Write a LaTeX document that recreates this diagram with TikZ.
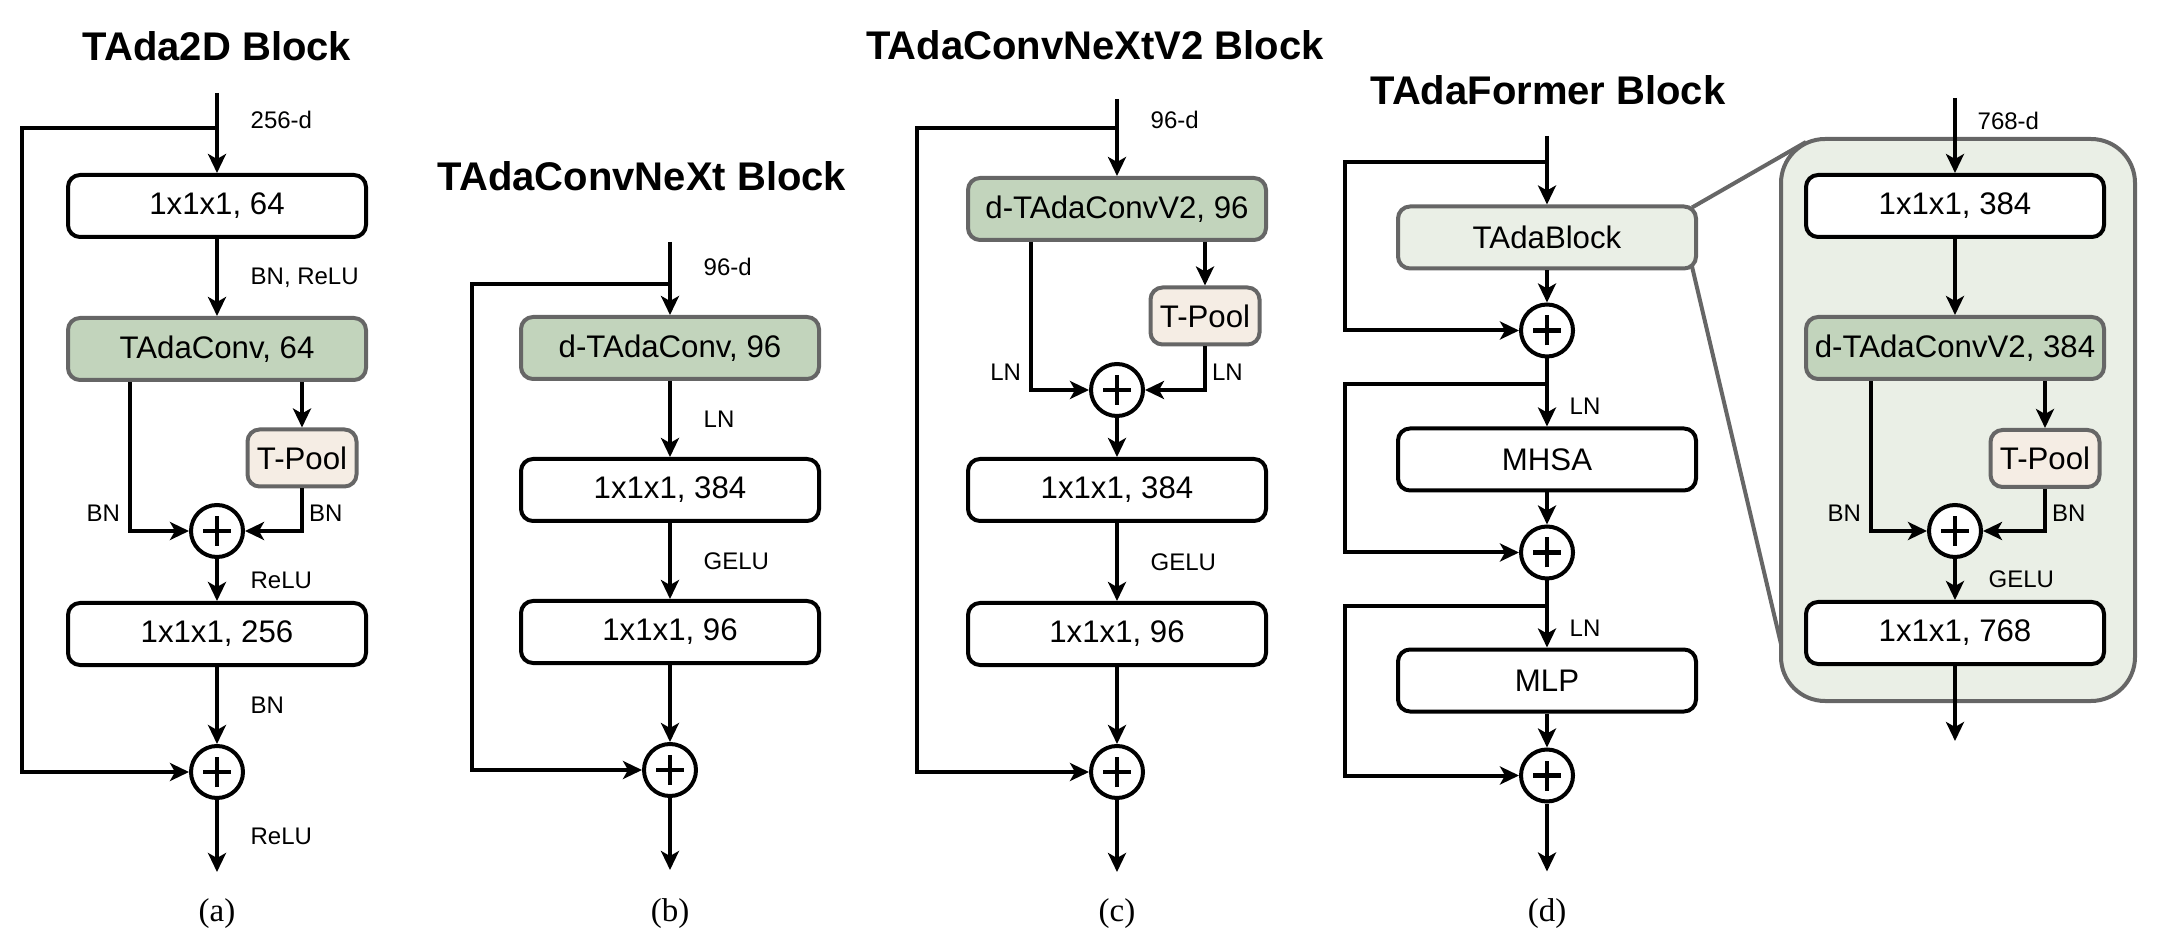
\documentclass[tikz,border=0pt]{standalone}
\usepackage{fontspec}
\setmainfont{Liberation Sans}
\newfontfamily\capfont{Liberation Serif}
\usetikzlibrary{positioning,arrows.meta,backgrounds}
\definecolor{cG}{RGB}{194,212,188}
\definecolor{cP}{RGB}{245,237,228}
\definecolor{cL}{RGB}{234,239,230}
\definecolor{cD}{RGB}{102,102,102}
\tikzset{myboxW/.style={
  shape=rectangle,
  rounded corners=6pt,
  draw=black,
  fill=white,
  line width=2pt,
  minimum width=149pt,
  minimum height=31pt,
  inner sep=0pt,
  font=\fontsize{15.6}{18}\selectfont,
  }
}
\tikzset{myboxG/.style={
  myboxW,
  draw=cD,
  fill=cG,
  }
}
\tikzset{myboxL/.style={
  myboxW,
  draw=cD,
  fill=cL,
  }
}
\tikzset{myboxP/.style={
  myboxW,
  draw=cD,
  fill=cP,
  minimum width=54.5pt,
  minimum height=28.5pt,
  }
}
\tikzset{mybig/.style={
  shape=rectangle,
  rounded corners=22pt,
  draw=cD,
  fill=cL,
  line width=2pt,
  minimum width=177pt,
  minimum height=281pt,
  }
}
\tikzset{myplus/.style={
  shape=circle,
  draw=black,
  fill=white,
  line width=2pt,
  minimum size=26pt,
  inner sep=0pt,
  path picture={
    \draw[line width=2.2pt] ([xshift=-7pt]path picture bounding box.center) -- ([xshift=7pt]path picture bounding box.center);
    \draw[line width=2.2pt] ([yshift=-7.5pt]path picture bounding box.center) -- ([yshift=7.5pt]path picture bounding box.center);
  },
  }
}
\tikzset{myarrow/.style={
  draw=black,
  line width=2pt,
  -{Stealth[length=9.5pt,width=9pt,inset=2.5pt]},
  }
}
\tikzset{mygray/.style={
  draw=cD,
  line width=2pt,
  }
}
\tikzset{elbl/.style={anchor=west, xshift=12.5pt, font=\fontsize{12}{14}\selectfont}}
\tikzset{elbl2/.style={anchor=west, xshift=7pt, font=\fontsize{12}{14}\selectfont}}
\tikzset{lblL/.style={anchor=south east, inner xsep=4pt, inner ysep=3.5pt, font=\fontsize{12}{14}\selectfont}}
\tikzset{lblR/.style={anchor=south west, inner xsep=2.5pt, inner ysep=3.5pt, font=\fontsize{12}{14}\selectfont}}
\tikzset{mytitle/.style={font=\bfseries\fontsize{20}{24}\selectfont}}
\tikzset{mycap/.style={font=\capfont\fontsize{16.5}{20}\selectfont}}

\begin{document}
\begin{tikzpicture}[x=0.5pt,y=-0.5pt]
\useasboundingbox (0,0) rectangle (2168,940);

% (a) TAda2D
\node[mytitle] (ta) at (217,46) {TAda2D Block};
\coordinate (a0) at (217,93);
\coordinate (aj) at (217,128);
\coordinate (ak) at (22,128);
\node[myboxW] (a1) at (217,206) {1x1x1, 64};
\node[myboxG, below=38.5pt of a1] (a2) {TAdaConv, 64};
\node[myboxP] (a3) at (302,458) {T-Pool};
\node[myplus, below=60.5pt of a2] (a4) {};
\node[myboxW, below=21pt of a4] (a5) {1x1x1, 256};
\node[myplus, below=38.5pt of a5] (a6) {};
\coordinate[below=36pt of a6] (a7);
\node[mycap] (ca) at (217,914) {(a)};
\draw[myarrow] (a0) -- node[elbl, pos=0.34]{256-d} (a1);
\draw[myarrow] (aj) -- (ak) |- (a6);
\draw[myarrow] (a1) -- node[elbl]{BN, ReLU} (a2);
\draw[myarrow] ([xshift=-43.5pt]a2.south) |- node[pos=0.5, lblL]{BN} (a4);
\draw[myarrow] ([xshift=42.5pt]a2.south) -- (a3);
\draw[myarrow] (a3) |- node[pos=0.5, lblR]{BN} (a4);
\draw[myarrow] (a4) -- node[elbl]{ReLU} (a5);
\draw[myarrow] (a5) -- node[elbl]{BN} (a6);
\draw[myarrow] (a6) -- node[elbl]{ReLU} (a7);

% (b) TAdaConvNeXt
\node[mytitle] (tb) at (642,176) {TAdaConvNeXt Block};
\coordinate (b0) at (670,242);
\coordinate (bj) at (670,284);
\coordinate (bk) at (472,284);
\node[myboxG] (b1) at (670,348) {d-TAdaConv, 96};
\node[myboxW, below=38pt of b1] (b2) {1x1x1, 384};
\node[myboxW, below=38pt of b2] (b3) {1x1x1, 96};
\node[myplus, below=38.5pt of b3] (b4) {};
\coordinate[below=36pt of b4] (b5);
\node[mycap] (cb) at (670,914) {(b)};
\draw[myarrow] (b0) -- node[elbl, pos=0.34]{96-d} (b1);
\draw[myarrow] (bj) -- (bk) |- (b4);
\draw[myarrow] (b1) -- node[elbl]{LN} (b2);
\draw[myarrow] (b2) -- node[elbl]{GELU} (b3);
\draw[myarrow] (b3) -- (b4);
\draw[myarrow] (b4) -- (b5);

% (c) TAdaConvNeXtV2
\node[mytitle] (tc) at (1095,45) {TAdaConvNeXtV2 Block};
\coordinate (c0) at (1117,99);
\coordinate (cj) at (1117,128);
\coordinate (ck) at (917,128);
\node[myboxG] (c1) at (1117,209) {d-TAdaConvV2, 96};
\node[myboxP] (c2) at (1205,316) {T-Pool};
\node[myplus, below=60pt of c1] (c3) {};
\node[myboxW, below=19.5pt of c3] (c4) {1x1x1, 384};
\node[myboxW, below=39pt of c4] (c5) {1x1x1, 96};
\node[myplus, below=38.5pt of c5] (c6) {};
\coordinate[below=36pt of c6] (c7);
\node[mycap] (cc) at (1117,914) {(c)};
\draw[myarrow] (c0) -- node[elbl, pos=0.27]{96-d} (c1);
\draw[myarrow] (cj) -- (ck) |- (c6);
\draw[myarrow] ([xshift=-43pt]c1.south) |- node[pos=0.5, lblL]{LN} (c3);
\draw[myarrow] ([xshift=44pt]c1.south) -- (c2);
\draw[myarrow] (c2) |- node[pos=0.5, lblR]{LN} (c3);
\draw[myarrow] (c3) -- (c4);
\draw[myarrow] (c4) -- node[elbl]{GELU} (c5);
\draw[myarrow] (c5) -- (c6);
\draw[myarrow] (c6) -- (c7);

% (d) TAdaFormer
\node[mytitle] (td) at (1548,90) {TAdaFormer Block};
\coordinate (d0) at (1547,136);
\coordinate (dj1) at (1547,162);
\coordinate (dk1) at (1345,162);
\coordinate (dj2) at (1547,384);
\coordinate (dk2) at (1345,384);
\coordinate (dj3) at (1547,606);
\coordinate (dk3) at (1345,606);
\node[myboxL] (d1) at (1547,237.5) {TAdaBlock};
\node[myplus, below=16pt of d1] (d2) {};
\node[myboxW, below=34pt of d2] (d3) {MHSA};
\node[myplus, below=16pt of d3] (d4) {};
\node[myboxW, below=33.5pt of d4] (d5) {MLP};
\node[myplus, below=17pt of d5] (d6) {};
\coordinate[below=34pt of d6] (d7);
\node[mycap] (cd) at (1547,914) {(d)};
\draw[myarrow] (d0) -- (d1);
\draw[myarrow] (dj1) -- (dk1) |- (d2);
\draw[myarrow] (d1) -- (d2);
\draw[myarrow] (d2) -- node[elbl2, pos=0.7]{LN} (d3);
\draw[myarrow] (dj2) -- (dk2) |- (d4);
\draw[myarrow] (d3) -- (d4);
\draw[myarrow] (d4) -- node[elbl2, pos=0.72]{LN} (d5);
\draw[myarrow] (dj3) -- (dk3) |- (d6);
\draw[myarrow] (d5) -- (d6);
\draw[myarrow] (d6) -- (d7);

% zoomed TAdaBlock
\node[mybig] (eb) at (1958,420) {};
\coordinate (ez1) at (1806,142);
\coordinate (ez2) at (1781,644);
\begin{scope}[on background layer]
\draw[mygray] ([xshift=-3pt,yshift=-1.5pt]d1.north east) -- (ez1);
\draw[mygray] ([xshift=-3pt,yshift=2pt]d1.south east) -- (ez2);
\end{scope}
\coordinate (e0) at (1955,98);
\node[myboxW] (e1) at (1955,206) {1x1x1, 384};
\node[myboxG, below=38pt of e1] (e2) {d-TAdaConvV2, 384};
\node[myboxP] (e3) at (2045,458.5) {T-Pool};
\node[myplus, below=61pt of e2] (e4) {};
\node[myboxW, below=20.5pt of e4] (e5) {1x1x1, 768};
\coordinate[below=37.5pt of e5] (e6);
\draw[myarrow] (e0) -- node[elbl2, pos=0.3]{768-d} (e1);
\draw[myarrow] (e1) -- (e2);
\draw[myarrow] ([xshift=-42pt]e2.south) |- node[pos=0.5, lblL]{BN} (e4);
\draw[myarrow] ([xshift=45pt]e2.south) -- (e3);
\draw[myarrow] (e3) |- node[pos=0.5, lblR]{BN} (e4);
\draw[myarrow] (e4) -- node[elbl]{GELU} (e5);
\draw[myarrow] (e5) -- (e6);
\end{tikzpicture}
\end{document}
